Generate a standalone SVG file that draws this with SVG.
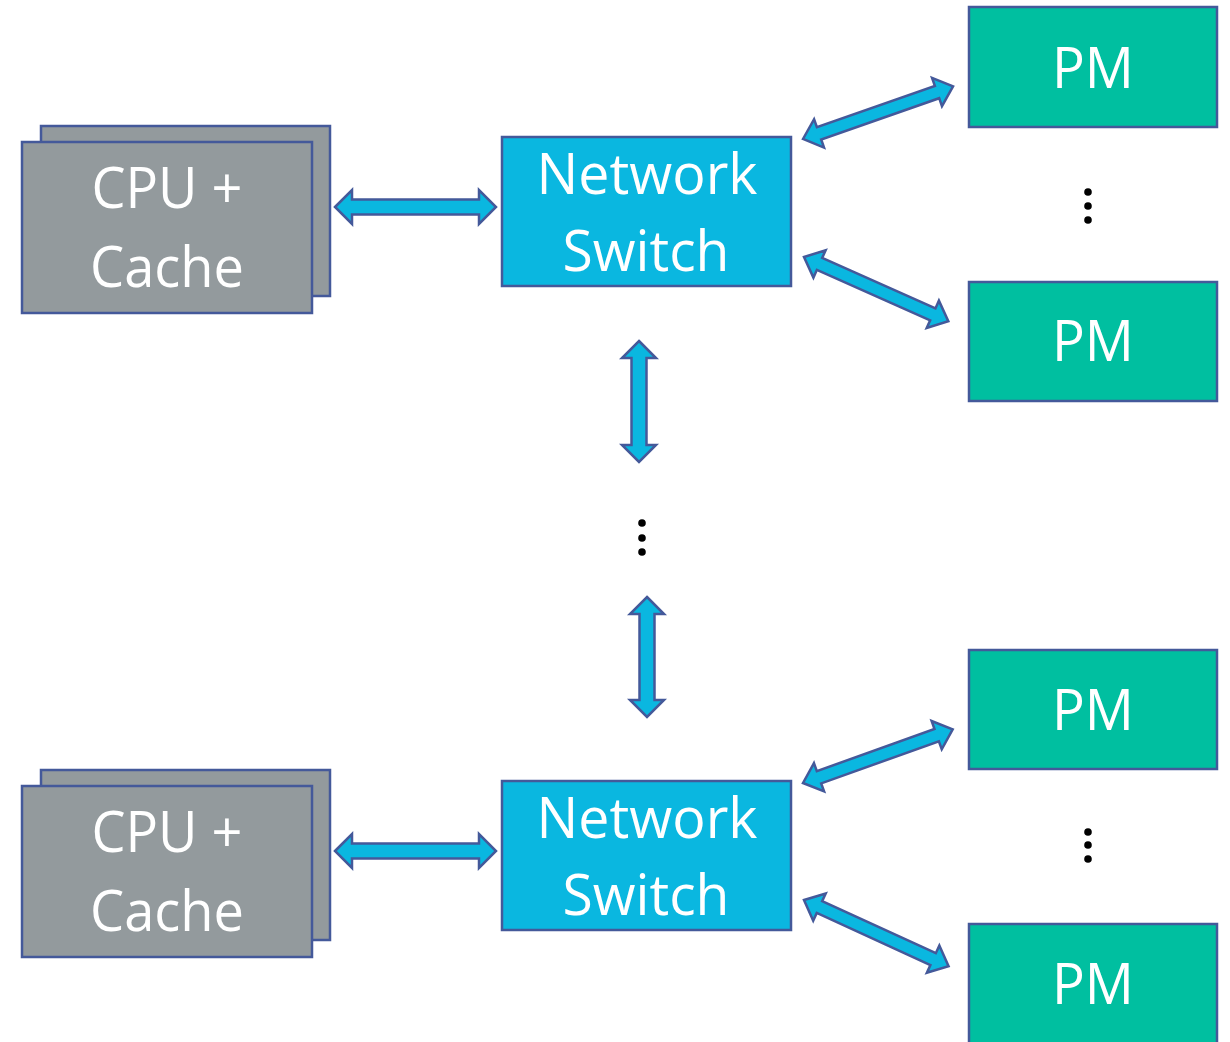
<svg xmlns="http://www.w3.org/2000/svg" width="1230" height="1042" viewBox="0 0 1230 1042">
  <style>
    .box { stroke: #44599a; stroke-width: 2.5; }
    .cpu { fill: #939a9d; }
    .sw { fill: #0ab7e0; }
    .pm { fill: #00bfa0; }
    .lbl { fill: #ffffff; font-family: "Open Sans", "Noto Sans", "Liberation Sans", sans-serif; font-size: 57px; text-anchor: middle; }
    .arrow { fill: #0ab7e0; stroke: #44599a; stroke-width: 2.5; stroke-linejoin: miter; }
    .dot { fill: #000000; }
  </style>
  <rect width="1230" height="1042" fill="#ffffff"/>

  <!-- upper processor stack -->
  <g id="cpu-top">
    <rect class="box cpu" x="41" y="126" width="289" height="170"/>
    <rect class="box cpu" x="22" y="142" width="290" height="171"/>
    <text class="lbl" x="167" y="208" textLength="151" lengthAdjust="spacingAndGlyphs">CPU +</text>
    <text class="lbl" x="167" y="287" textLength="154" lengthAdjust="spacingAndGlyphs">Cache</text>
  </g>

  <!-- lower processor stack -->
  <g id="cpu-bottom">
    <rect class="box cpu" x="41" y="770" width="289" height="170"/>
    <rect class="box cpu" x="22" y="786" width="290" height="171"/>
    <text class="lbl" x="167" y="852" textLength="151" lengthAdjust="spacingAndGlyphs">CPU +</text>
    <text class="lbl" x="167" y="931" textLength="154" lengthAdjust="spacingAndGlyphs">Cache</text>
  </g>

  <!-- switches -->
  <g id="switch-top">
    <rect class="box sw" x="502" y="137" width="289" height="149"/>
    <text class="lbl" x="647" y="194" textLength="221" lengthAdjust="spacingAndGlyphs">Network</text>
    <text class="lbl" x="646" y="271" textLength="167" lengthAdjust="spacingAndGlyphs">Switch</text>
  </g>
  <g id="switch-bottom">
    <rect class="box sw" x="502" y="781" width="289" height="149"/>
    <text class="lbl" x="647" y="838" textLength="221" lengthAdjust="spacingAndGlyphs">Network</text>
    <text class="lbl" x="646" y="915" textLength="167" lengthAdjust="spacingAndGlyphs">Switch</text>
  </g>

  <!-- persistent memory modules -->
  <g id="pm-1">
    <rect class="box pm" x="969" y="7" width="248" height="120"/>
    <text class="lbl" x="1093" y="88" textLength="82" lengthAdjust="spacingAndGlyphs">PM</text>
  </g>
  <g id="pm-2">
    <rect class="box pm" x="969" y="282" width="248" height="119"/>
    <text class="lbl" x="1093" y="361" textLength="82" lengthAdjust="spacingAndGlyphs">PM</text>
  </g>
  <g id="pm-3">
    <rect class="box pm" x="969" y="650" width="248" height="119"/>
    <text class="lbl" x="1093" y="730" textLength="82" lengthAdjust="spacingAndGlyphs">PM</text>
  </g>
  <g id="pm-4">
    <rect class="box pm" x="969" y="924" width="248" height="130"/>
    <text class="lbl" x="1093" y="1004" textLength="82" lengthAdjust="spacingAndGlyphs">PM</text>
  </g>

  <!-- ellipses -->
  <g id="ellipsis">
    <circle class="dot" cx="642" cy="523" r="3.8"/>
    <circle class="dot" cx="642" cy="538" r="3.8"/>
    <circle class="dot" cx="642" cy="552" r="3.8"/>
    <circle class="dot" cx="1088" cy="192" r="3.8"/>
    <circle class="dot" cx="1088" cy="206" r="3.8"/>
    <circle class="dot" cx="1088" cy="220" r="3.8"/>
    <circle class="dot" cx="1088" cy="832" r="3.8"/>
    <circle class="dot" cx="1088" cy="845" r="3.8"/>
    <circle class="dot" cx="1088" cy="859" r="3.8"/>
  </g>

  <!-- double-headed block arrows -->
  <g id="connectors">
    <!-- CPU <-> switch -->
    <path class="arrow" transform="translate(335,207)" d="M0,0 L17,-17 L17,-7.5 L144,-7.5 L144,-17 L161,0 L144,17 L144,7.5 L17,7.5 L17,17 Z"/>
    <path class="arrow" transform="translate(335,851)" d="M0,0 L17,-17 L17,-7.5 L144,-7.5 L144,-17 L161,0 L144,17 L144,7.5 L17,7.5 L17,17 Z"/>
    <!-- switch <-> switch (via ellipsis) -->
    <path class="arrow" transform="translate(639,341) rotate(90)" d="M0,0 L17,-17 L17,-7.5 L104,-7.5 L104,-17 L121,0 L104,17 L104,7.5 L17,7.5 L17,17 Z"/>
    <path class="arrow" transform="translate(647,597) rotate(90)" d="M0,0 L17,-17 L17,-7.5 L103,-7.5 L103,-17 L120,0 L103,17 L103,7.5 L17,7.5 L17,17 Z"/>
    <!-- switch <-> PM, upper group -->
    <path class="arrow" transform="translate(803,139) rotate(-19.3)" d="M0,0 L17,-15 L17,-6.5 L142,-6.5 L142,-15 L159,0 L142,15 L142,6.5 L17,6.5 L17,15 Z"/>
    <path class="arrow" transform="translate(804,257) rotate(24)" d="M0,0 L17,-15 L17,-6.5 L141,-6.5 L141,-15 L158,0 L141,15 L141,6.5 L17,6.5 L17,15 Z"/>
    <!-- switch <-> PM, lower group -->
    <path class="arrow" transform="translate(803,783) rotate(-19.7)" d="M0,0 L17,-15 L17,-6.5 L142,-6.5 L142,-15 L159,0 L142,15 L142,6.5 L17,6.5 L17,15 Z"/>
    <path class="arrow" transform="translate(804,900) rotate(24.6)" d="M0,0 L17,-15 L17,-6.5 L142,-6.5 L142,-15 L159,0 L142,15 L142,6.5 L17,6.5 L17,15 Z"/>
  </g>
</svg>
